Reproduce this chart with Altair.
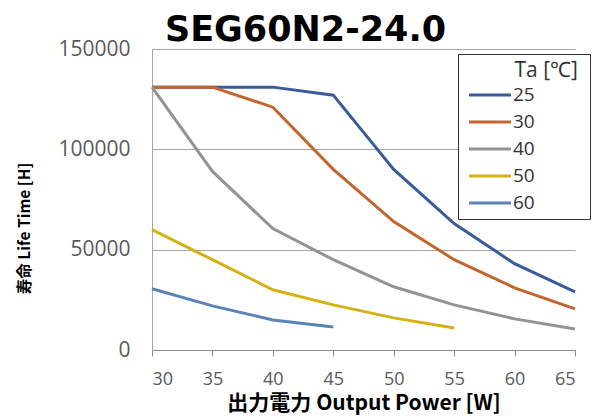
import altair as alt
import pandas as pd

power = [30, 35, 40, 45, 50, 55, 60, 65]
ta_labels = ["25", "30", "40", "50", "60"]
ta25 = [131000, 131000, 131000, 127000, 90000, 63000, 43000, 29000]
ta30 = [131000, 131000, 121000, 90000, 64000, 45000, 31000, 20500]
ta40 = [131000, 89000, 60500, 45000, 31500, 22500, 15500, 10500]
ta50 = [60000, 45000, 30000, 22500, 16000, 11000]
ta60 = [30500, 22000, 15000, 11500]
colors = ["#3A5B9A", "#C4652F", "#939393", "#D6B112", "#5A84B8"]

rows = []
for lab, series in zip(ta_labels, [ta25, ta30, ta40, ta50, ta60]):
    for p, v in zip(power, series):
        rows.append({"power": p, "life": v, "ta": lab})
df = pd.DataFrame(rows)

font = "Noto Sans CJK JP"
lfont = "Open Sans"

chart = alt.Chart(df).mark_line(strokeWidth=3).encode(
    x=alt.X("power:Q",
            scale=alt.Scale(domain=[30, 65], nice=False, zero=False),
            axis=alt.Axis(values=power, title="出力電力 Output Power [W]",
                          grid=False, domainColor="#8c8c8c", tickColor="#8c8c8c",
                          tickSize=6, labelPadding=14, labelFontSize=18,
                          labelColor="#595959", labelFont=lfont,
                          titleFont=font, titleFontSize=21, titleFontWeight="bold",
                          titleColor="#000000", titleY=53,
                          titleBaseline="middle")),
    y=alt.Y("life:Q",
            scale=alt.Scale(domain=[0, 150000], nice=False),
            axis=alt.Axis(values=[0, 50000, 100000, 150000], format="d",
                          title="寿命 Life Time [H]", grid=True,
                          gridColor="#a6a6a6", gridWidth=1.2,
                          domainColor="#a6a6a6", ticks=False, labelPadding=22,
                          labelFontSize=21, labelColor="#595959", labelFont=lfont,
                          titleFont=font, titleFontSize=15.5, titleFontWeight="bold",
                          titleColor="#000000", titleX=-128, titleY=179,
                          titleBaseline="middle", titleAlign="center")),
    color=alt.Color("ta:N",
                    scale=alt.Scale(domain=ta_labels, range=colors),
                    legend=alt.Legend(title="\u2800\u2800\u2800  Ta [℃]", orient="none",
                                      legendX=306, legendY=5,
                                      symbolType="M-2,0H2", symbolStrokeWidth=3,
                                      symbolSize=441, labelFontSize=19,
                                      symbolOffset=14, labelOffset=11,
                                      labelFont=lfont, titleFont=lfont,
                                      titleFontSize=21, titleFontWeight="normal",
                                      titleColor="#333333", labelColor="#333333",
                                      strokeColor="#333333", fillColor="white",
                                      padding=6, rowPadding=5,
                                      titlePadding=2,
                                      titleAlign="left", titleAnchor="start")),
).properties(
    width=423, height=301,
    title=alt.TitleParams("SEG60N2-24.0", font="DejaVu Sans", fontSize=35,
                          fontWeight="bold", color="#000000", anchor="start",
                          frame="group", dx=13, dy=16, offset=6),
    autosize=alt.AutoSizeParams(type="none"),
    padding={"left": 144, "top": 41, "right": 16, "bottom": 70},
).configure_view(stroke=None)

chart.save("out.html", embed_options={"renderer": "svg", "actions": False})
